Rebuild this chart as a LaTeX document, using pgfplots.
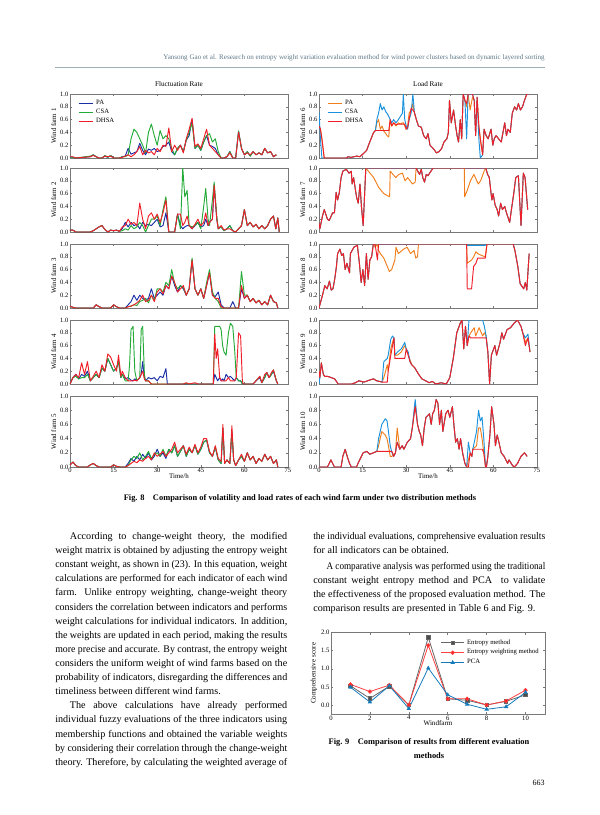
\documentclass[border=0pt]{standalone}
\usepackage{fontspec}
\setmainfont{Liberation Serif}
\usepackage{graphicx}
\usepackage{pgfplots}
\pgfplotsset{compat=1.18}
\usepackage{pgfplotstable}

\definecolor{paL}{RGB}{25,45,165}
\definecolor{csaL}{RGB}{35,170,55}
\definecolor{dhsa}{RGB}{240,30,40}
\definecolor{paR}{RGB}{240,125,25}
\definecolor{csaR}{RGB}{25,145,220}
\definecolor{hdr}{RGB}{95,120,135}
\definecolor{frame}{RGB}{120,120,120}

\pgfplotstableread{
t pa csa dhsa
0 .02 .02 .02
1 .01 .01 .02
2 0 0 0
7 .02 .03 .02
8 .05 .05 .04
9 .02 .02 .02
10 0 0 0
11 0 0 0
12 .03 .04 .03
13 .01 .01 .02
14 .04 .04 .03
15 0 0 0
17 0 0 0
18 .02 .02 .01
19 .03 .02 .03
20 .15 .05 .05
21 .06 .3 .02
22 .08 .45 .05
23 .1 .4 .1
24 .23 .3 .18
25 .12 .2 .05
26 .05 .08 .12
27 .14 .4 .08
28 .12 .53 .1
29 .15 .35 .05
30 .1 .2 .15
31 .12 .43 .1
32 .18 .3 .2
33 .2 .35 .18
34 .25 .3 .47
35 .1 .15 .1
36 .05 .05 .2
37 .15 .15 .12
38 .2 .2 .2
39 .1 .1 .08
40 .28 .28 .3
41 .35 .4 .45
42 .6 .55 .62
43 .15 .15 .18
44 .2 .2 .22
45 .12 .12 .15
46 .25 .25 .3
47 .35 .35 .45
48 .2 .38 .2
49 .18 .25 .15
50 .15 .3 .1
51 .05 .1 .05
52 0 0 0
53 0 0 0
54 .02 .02 .02
55 .1 .1 .08
56 0 0 0
57 0 0 0
58 .42 .42 .4
59 .15 .15 .15
60 .05 .05 .05
61 .1 .1 .08
62 .03 .03 .05
63 .1 .1 .1
64 .05 .05 .05
65 .08 .08 .08
66 .05 .05 .05
67 .15 .15 .15
68 .08 .08 .08
69 .1 .1 .1
70 .02 .02 .02
71 .05 .05 .05
}\tabA

\pgfplotstableread{
t pa csa dhsa
0 .03 .03 .03
1 .03 .03 .03
2 0 0 0
7 0 0 0
8 .02 .02 .02
10 .08 .08 .08
11 .1 .1 .1
12 .04 .04 .04
13 0 0 0
14 .03 .03 .03
15 .02 .02 .02
16 .03 .03 .03
17 .01 .01 .01
18 .05 .02 .08
19 .15 .05 .1
20 .08 .03 .2
21 .15 .1 .12
22 .1 .05 .15
23 .12 .08 .1
24 .05 .15 .45
25 .15 .1 .2
26 .1 0 .05
27 .12 .1 .25
28 .1 .2 .3
29 .15 .2 .2
30 .2 .25 .28
31 .08 .1 .15
32 .1 .35 .3
33 .3 .55 .5
34 0 0 0
36 0 0 0
37 .28 .28 .28
38 .1 .05 .28
38.8 .05 1.0 .1
39.5 .08 .55 .15
40.3 .1 .65 .25
41 .1 .1 .1
42 .05 .08 .05
43 .1 .1 .12
44 .15 .15 .2
45 .08 .05 .1
46 .1 .4 .15
46.7 .2 .68 .3
47.5 .1 .2 .1
48 .15 .1 .15
49 .2 .5 .2
49.6 .72 .78 .73
50.5 .2 .25 .2
51 .05 .05 .05
52 .08 .08 .1
53 .02 .02 .03
54 .05 .05 .05
55 .1 .1 .05
56 .02 .02 .02
57 0 0 0
58 .05 .05 .05
59 .1 .1 .1
60 .35 .35 .35
61 .1 .1 .1
62 .15 .15 .15
63 .08 .08 .08
64 .12 .12 .12
65 .05 .05 .05
66 .1 .1 .1
67 .05 .05 .05
68 .1 .1 .1
69 .2 .2 .2
70 .25 .25 .25
70.8 .05 .05 .05
71.5 .22 .22 .22
72 0 0 0
}\tabB

\pgfplotstableread{
t pa csa dhsa
0 .03 .03 .03
1 .01 .01 .01
2 0 0 0
8 0 0 0
9 .05 .05 .05
10 .02 .02 .02
11 0 0 0
14 0 0 0
15 .05 .05 .05
16 .02 .02 .02
17 0 0 0
19 0 0 0
20 .05 .02 .02
21 .1 .03 .03
22 .2 .05 .05
23 .12 .04 .08
24 .2 .1 .12
25 .15 .12 .2
26 .12 .15 .1
27 .15 .08 .12
28 .3 .2 .2
29 .15 .12 .1
30 .2 .3 .25
31 .25 .3 .3
32 .2 .25 .22
33 .35 .4 .35
34 .3 .35 .3
35 .5 .6 .5
36 .35 .38 .4
37 .25 .3 .25
38 .35 .35 .3
39 .3 .32 .35
40 .2 .2 .2
41 .3 .3 .3
42 .75 .78 .75
43 .3 .3 .3
44 .2 .2 .2
45 .3 .3 .3
46 .15 .15 .15
47 .35 .4 .35
48 .55 .6 .55
49 .2 .25 .2
50 .18 .15 .15
51 .25 .1 .15
52 .05 0 .02
53 0 0 0
55 0 0 0
56 .1 0 0
57 0 0 0
58 0 0 0
59 .3 .57 .35
60 .15 .2 .15
61 .2 .2 .2
62 .1 .1 .1
63 .15 .15 .15
64 .08 .08 .08
65 .12 .12 .12
66 .05 .05 .05
67 .1 .1 .1
68 .05 .05 .05
69 .2 .2 .2
70 .1 .1 .1
71 .08 .08 .08
71.5 0 0 0
}\tabC

\pgfplotstableread{
t pa csa dhsa
0 0 0 0
1 .1 .1 .1
2 .15 .12 .15
3 .08 .08 .1
4 .15 .1 .33
5 .12 .1 .15
6 .2 .15 .35
7 .05 .05 .05
8 .1 .1 .12
9 .15 .15 .2
10 .1 .1 .1
11 .25 .25 .3
12 .2 .2 .2
13 .4 .4 .47
14 .3 .3 .42
15 .2 .2 .3
16 .25 .25 .2
16.7 .35 .35 .45
17.5 .1 .1 .12
18 .15 .15 .2
19 .08 .05 .1
20 .1 .05 .05
20.5 .08 .3 .05
21 .06 .85 .05
21.7 .05 .9 .05
22.3 .08 .2 .06
23 .05 .05 .05
24 .1 .1 .1
24.5 .15 .85 .15
25 .35 .9 .2
25.6 .1 .15 .08
26 .05 .05 .05
27 .1 .05 .05
28 .08 0 0
29 .1 0 0
30 .05 0 0
31 .12 0 0
32 .1 0 0
33 .24 0 0
33.5 0 0 0
39 0 0 0
40 0 .01 .02
41 0 0 0
43 0 0 .02
44 0 0 0
49.3 0 0 0
49.8 .15 .9 .78
50.3 .1 .9 .4
50.8 .05 .9 .55
51.5 .1 .9 .1
52 .05 .85 .05
52.5 .08 .6 .05
53 .05 .5 .05
53.7 .15 .45 .05
54.5 .1 .8 .1
55.2 .12 .95 .05
56 .08 .9 .05
56.7 .05 .5 .05
57.2 .1 .1 .1
58 .05 .05 .8
58.7 .05 .05 .75
59.3 0 0 .05
59.6 0 0 0
63 0 0 0
64 .05 .05 .05
65.3 .1 .12 .12
66 .02 .02 .02
67 .1 .1 .15
67.7 .18 .18 .18
68.5 .1 .1 .1
69.3 .15 .15 .18
70 .2 .22 .22
71 .05 .05 .05
71.5 0 0 0
}\tabD

\pgfplotstableread{
t pa csa dhsa
0 .03 .03 .03
1 .07 .07 .07
2 .02 .02 .02
3 0 0 0
6 0 0 0
7 .03 .03 .03
8 .05 .05 .05
9 .02 .02 .02
10 0 0 0
14 0 0 0
15 .03 .03 .03
16 .01 .01 .01
17 0 0 0
19 0 0 0
20 .05 .02 .02
21 .12 .1 .05
22 .08 .15 .08
23 .15 .12 .06
24 .1 .2 .1
25 .18 .1 .08
26 .12 .15 .12
27 .2 .22 .15
28 .1 .12 .1
29 .15 .18 .2
30 .25 .2 .15
31 .15 .15 .18
32 .2 .25 .22
33 .12 .15 .15
34 .25 .25 .2
35 .2 .2 .25
36 .3 .3 .35
37 .15 .15 .2
38 .22 .22 .25
39 .3 .3 .3
40 .15 .15 .18
41 .25 .25 .28
42 .2 .2 .2
43 .3 .3 .32
44 .18 .18 .2
45 .25 .25 .28
46 .35 .35 .4
47 .38 .38 .4
48 .2 .2 .22
49 .15 .15 .15
50 .28 .28 .3
51 .1 .1 .12
52 .05 .05 .08
52.6 .55 .55 .6
53.2 .05 .05 .05
54 .1 .1 .1
55 .05 .05 .05
55.7 .5 .5 .58
56.3 .1 .1 .1
57 .02 .02 .02
58 .1 .1 .1
59 .15 .15 .18
60 .08 .08 .08
61 .2 .2 .2
62 .1 .1 .1
63 .15 .15 .15
64 .05 .05 .05
65 .12 .12 .12
66 .08 .08 .08
67 .18 .18 .18
68 .1 .1 .1
69 .15 .15 .15
70 .05 .05 .05
71 .1 .1 .1
71.5 0 0 0
}\tabE

\pgfplotstableread{
t pa csa dhsa
0 .5 .72 .5
0.5 .45 .3 .45
1 .3 0 .3
1.8 0 0 0
9.4 0 0 0
10 .02 .02 .02
11 .01 .01 .01
12 .02 .02 .02
13 .03 .03 .03
14 .02 .02 .02
14.6 .04 .04 .04
15.5 .08 .08 .08
16.4 .12 .12 .12
17.2 .22 .22 .22
17.9 .3 .3 .3
18.8 .4 .4 .4
19.4 .43 .43 .43
19.9 .55 .6 .43
20.5 .6 .7 .43
21.1 .45 .85 .43
21.7 .5 .75 .43
22.3 .42 .8 .43
23 .38 .72 .43
23.4 .35 .7 .43
24 .33 .65 .43
24.5 .6 .6 .6
25 .5 .55 .5
25.7 .55 .6 .55
26.5 .5 .55 .52
27.3 .55 .6 .53
28 .53 .65 .53
28.7 .55 .7 .53
29 .55 1.0 .53
29.5 .5 .6 .53
30 .45 .5 .45
30.5 .5 .45 .48
31 .7 .6 .6
31.7 .75 .7 .78
32.3 .85 1.0 .75
32.8 .7 .72 .72
33.5 .6 .6 .6
34.2 .5 .5 .5
35.2 .48 .48 .48
36 .35 .35 .35
36.9 .3 .3 .3
37.5 .38 .38 .38
38.2 .2 .2 .2
39.3 .15 .15 .15
40.4 .08 .08 .08
41.3 .1 .1 .1
42.2 .15 .15 .15
43 .25 .25 .25
44 .3 .3 .3
44.5 .4 .4 .4
44.9 .9 .9 .9
45.5 .55 .55 .55
46.3 .75 .75 .75
47 .5 .5 .5
47.5 .35 .35 .35
48 .25 .25 .25
48.6 .6 .6 .6
49.1 .3 .3 .3
49.6 1.0 1.0 1.0
50.2 .9 .9 .9
50.8 .8 .3 .85
51.3 1.0 1.0 1.0
52 .75 1.0 1.0
52.8 .95 1.0 1.0
53.4 .9 .9 .9
53.9 .35 .35 .35
54.4 .95 .95 .95
55 .5 .3 .5
55.5 .3 0 .3
56.3 .05 .05 .05
56.8 .45 .45 .45
57.5 .35 .35 .35
58.2 .3 .3 .3
59.2 .45 .45 .45
59.8 .2 .2 .2
60.3 .3 .3 .3
60.9 .35 .35 .35
61.8 .3 .3 .3
62.7 .25 .25 .25
63.3 .4 .4 .4
63.9 .55 .55 .55
64.5 .35 .35 .35
65 .45 .45 .45
65.8 .4 .4 .4
66.5 .7 .7 .7
67.3 .8 .8 .8
68 .75 .75 .75
68.6 .85 .85 .85
69.3 .75 .75 .75
70 .8 .8 .8
70.7 .9 .9 .9
71.5 1.0 1.0 1.0
72.5 1.0 1.0 1.0
}\tabF

\pgfplotstableread{
t pa csa dhsa
0 .15 .15 .15
0.3 .05 .05 .05
1.2 .25 .25 .25
1.8 .35 .35 .35
2.9 .2 .2 .2
3.5 .18 .18 .18
4.7 .3 .3 .3
5.3 .3 .3 .3
5.6 .45 .45 .45
5.9 .62 .62 .62
6.4 .5 .5 .5
7 .62 .62 .62
7.6 .85 .85 .85
8.2 .95 .95 .95
9.4 .98 .98 .98
10.3 .92 .92 .92
11.1 .95 .95 .95
11.4 .75 .75 .75
11.9 .85 .85 .85
12.9 .55 .55 .55
13.5 .45 .45 .45
14.1 .75 .75 .75
14.6 .4 .4 .4
15.2 .1 .1 .1
16.1 1.0 1.0 1.0
17 .95 1.0 1.0
18.8 .85 1.0 1.0
20.5 .7 1.0 1.0
22.3 .6 1.0 1.0
24.3 .55 1.0 1.0
24.5 .95 1.0 1.0
26.4 .85 1.0 1.0
27.5 .9 1.0 1.0
28.7 .92 1.0 1.0
29.6 .8 1.0 1.0
30.5 .85 1.0 1.0
32.2 .75 1.0 1.0
33.1 .78 1.0 1.0
33.4 1.0 1.0 1.0
34.6 .9 .9 .9
35.2 .98 .98 .98
35.7 .85 .85 .85
36.3 .78 .78 .78
36.9 .9 .9 .9
37.5 .88 .88 .88
38.5 .95 .95 .95
39.3 1.0 1.0 1.0
50 1.0 1.0 1.0
50.1 .55 1.0 1.0
51 .65 1.0 1.0
52.1 .8 1.0 1.0
53.3 .9 1.0 1.0
54.8 .75 1.0 1.0
55.6 .8 1.0 1.0
56.8 .95 1.0 1.0
57.4 1.0 1.0 1.0
58 .9 .9 .9
58.6 .85 .85 .85
59.2 .6 .6 .6
59.5 .5 .5 .5
59.9 .6 .6 .6
60.6 .42 .42 .42
61.3 .35 .35 .35
61.8 .25 .25 .25
62.5 .45 .45 .45
63.1 .35 .35 .35
63.9 .4 .4 .4
64.5 .3 .3 .3
65.6 .15 .15 .15
66.2 .35 .35 .35
67 .6 .6 .6
67.7 .85 .85 .85
68.6 .88 .88 .88
69.5 .1 .1 .1
70.3 .92 .92 .92
70.9 .85 .85 .85
71.8 .35 .35 .35
}\tabG

\pgfplotstableread{
t pa csa dhsa
0 0 0 0
1.2 .2 .2 .2
2 .35 .35 .35
2.8 .3 .3 .3
3.6 .42 .42 .42
4.2 .28 .28 .28
4.8 .3 .3 .3
5.4 .45 .45 .45
6 .65 .65 .65
6.4 .85 .85 .85
7.2 .92 .92 .92
7.8 .82 .82 .82
8.4 .85 .85 .85
9 .6 .6 .6
9.6 .7 .7 .7
10.5 .55 .55 .55
10.8 .85 .85 .85
12 .95 .95 .95
13.2 .98 .98 .98
13.9 .7 .7 .7
14.5 .4 .4 .4
15.1 .6 .6 .6
15.7 .35 .35 .35
16.3 .85 .85 .85
16.9 .45 .45 .45
17.5 .75 .75 .75
18.1 .8 .8 .8
18.7 1.0 1.0 1.0
19.3 .95 1.0 1.0
20.1 1.0 1.0 .75
20.5 .9 1.0 1.0
21.1 .85 1.0 1.0
22.3 .78 1.0 1.0
23.5 .65 1.0 1.0
24.2 .57 1.0 1.0
25 .6 1.0 1.0
26.1 .75 1.0 1.0
26.5 .95 1.0 1.0
27.3 .85 1.0 1.0
29.1 .92 1.0 1.0
30.3 .95 1.0 1.0
31.5 .85 1.0 1.0
32.7 .9 1.0 1.0
33.3 .78 1.0 1.0
33.9 .8 1.0 1.0
34.2 1.0 1.0 1.0
50.8 1.0 1.0 1.0
51 .7 .98 .3
52.5 .75 .98 .3
53.2 .8 .98 .65
54 .88 .98 .7
54.6 .85 .98 .78
56 .82 .98 .78
57.2 .8 .98 .78
57.8 1.0 1.0 1.0
66.8 1.0 1.0 1.0
67.4 .9 .9 .9
68.4 .65 .65 .65
69.2 .38 .38 .38
70.4 .3 .3 .3
71 .4 .4 .4
71.5 .28 .28 .28
72.3 .85 .85 .85
}\tabH

\pgfplotstableread{
t pa csa dhsa
0 .2 0 .2
0.3 .1 .1 .1
0.8 .33 .33 .33
1.5 .15 .15 .15
2 .12 .12 .12
3 .12 .12 .12
4.2 .1 .1 .1
5.4 .08 .08 .08
6.6 0 0 0
11.3 0 0 0
12.5 .02 .02 .02
13.7 .05 .05 .05
15.5 .03 .03 .03
17.3 .06 .06 .06
18.7 .08 .08 .08
19.9 .05 .05 .05
21.7 .03 .03 .03
22.3 .1 .35 .03
23.5 .3 .4 .03
23.8 .2 .45 .2
24.7 .55 .7 .45
25.3 .65 .75 .6
25.8 .72 .72 .72
26.1 .45 .45 .4
27 .45 .5 .4
28.3 .5 .55 .4
28.9 .55 .6 .4
29.5 .6 .65 .4
30 .55 .55 .55
30.7 .45 .5 .45
31.3 .38 .35 .35
31.9 .3 .3 .3
33 .25 .25 .25
34.3 .15 .15 .15
35.4 .08 .08 .08
36.7 .05 .05 .05
37.9 .02 .02 .02
39 .04 .04 .04
40.2 0 0 0
42 .02 .02 .02
43.8 0 0 0
45 .1 .1 .1
46.2 .4 .4 .4
47.4 .8 .8 .8
48.6 .95 .95 .95
49.2 1.0 1.0 1.0
49.8 .55 .55 .55
50.4 .9 .9 .9
51 .6 .6 .6
51.6 .75 1.0 .75
52.2 .8 1.0 .72
53.4 .88 1.0 .72
53.9 .75 1.0 .72
55.1 .88 1.0 .72
56.3 .75 1.0 .72
56.9 .8 .9 .72
57.5 .75 .75 .72
58.1 .5 .5 .5
58.7 0 0 0
59.3 .45 .45 .45
60.5 .6 .6 .6
61.1 .45 .45 .45
62.3 .65 .65 .65
62.9 .8 .8 .8
63.5 .7 .7 .7
64.7 .85 .85 .85
65.9 .88 .88 .88
67.1 .95 .95 .95
68.3 1.0 1.0 1.0
69.5 .9 .9 .9
70.1 .8 .8 .8
71 .65 .72 .6
71.9 .72 .78 .72
72.6 .5 .5 .5
}\tabI

\pgfplotstableread{
t pa csa dhsa
0 0 0 0
2.9 0 0 0
4.1 .1 .1 .1
5.3 0 0 0
7.6 0 0 0
8.2 .15 .15 .15
9 .25 .25 .25
9.7 .15 .15 .15
10.5 .05 .05 .05
11.1 0 0 0
12.9 0 0 0
13.4 .05 .05 .05
15.2 .2 .2 .2
16.4 .22 .22 .22
17.5 .18 .18 .18
18.7 .2 .2 .2
19.9 .22 .22 .22
20.5 .3 .4 .22
21.6 .5 .6 .22
22.8 .45 .68 .22
23.4 .4 .65 .22
23.9 .3 .5 .22
24.5 .15 .3 .22
25.1 .15 .2 .22
25.7 .18 .15 .15
26.3 .2 .2 .2
26.9 .55 .35 .35
27.8 .25 .25 .25
28.6 .3 .3 .3
29.2 .25 .25 .25
30.4 .35 .35 .35
31.5 .4 .4 .4
32.1 .55 .55 .55
33.1 .9 .95 .85
33.9 .6 .6 .6
34.5 .5 .5 .5
35 .45 .45 .45
35.6 .3 .3 .3
36.2 .55 .55 .55
36.8 .7 .7 .7
38 .75 .75 .75
38.6 .6 .6 .6
39.1 .75 .75 .75
39.7 .8 .8 .8
40.3 .95 .95 .95
40.9 .9 .9 .9
41.5 .6 .6 .6
42.1 .8 .8 .8
42.6 .5 .5 .5
43.6 .75 .75 .75
44.4 .8 .8 .8
45 .7 .7 .7
45.9 .85 .85 .85
46.4 .6 .6 .6
47 .35 .35 .35
47.6 .4 .4 .4
48.2 .25 .25 .25
48.7 .4 .4 .4
49.4 .2 .2 .2
50.2 .05 .05 .05
50.8 0 0 0
51.4 .1 .35 0
52 .2 .2 .2
52.6 .15 .15 .15
52.9 .25 .25 .25
54.2 .3 .5 .25
54.9 .55 .8 .25
55.5 .55 .65 .25
56.1 .4 .7 .25
56.7 .2 .4 .2
57.3 0 0 0
57.6 0 0 0
58.1 .15 .15 .15
58.8 .45 .45 .45
59.4 .85 .85 .85
60.2 .6 .6 .6
60.7 .3 .3 .3
61.3 .45 .45 .45
61.9 .35 .35 .35
62.7 .2 .2 .2
63.7 .15 .15 .15
64.9 .05 .05 .05
65.4 .1 .1 .1
66.6 .02 .02 .02
67.2 0 0 0
68.3 .05 .05 .05
69.5 .15 .15 .15
70.7 .2 .2 .2
71.6 .15 .15 .15
}\tabJ

\pgfplotsset{
  panel/.style={
    scale only axis, width=163.5pt, height=48pt, anchor=north west,
    xmin=0, xmax=75, ymin=0, ymax=1,
    xtick={0,15,30,45,60,75}, ytick={0,0.2,0.4,0.6,0.8,1},
    xticklabels={},
    tick align=inside, major tick length=1.8pt,
    axis line style={frame, line width=0.45pt},
    tick style={frame, line width=0.4pt},
    /pgf/number format/assume math mode=true,
    yticklabel style={/pgf/number format/.cd, fixed, fixed zerofill, precision=1},
    tick label style={font=\fontsize{4.9}{5}\selectfont, inner sep=1pt},
    label style={font=\fontsize{5.2}{6}\selectfont},
    ylabel style={yshift=-1.5pt},
    title style={font=\fontsize{5.4}{6}\selectfont, yshift=-4pt},
    every axis plot/.append style={line width=0.7pt, no markers, line join=round},
    legend style={at={(0.03,0.97)}, anchor=north west, draw=none, fill=none,
      font=\fontsize{5}{5.5}\selectfont, row sep=-2.2pt, inner sep=1pt},
    legend cell align=left,
    legend image code/.code={\draw[mark repeat=2,mark phase=2,#1] plot coordinates {(0cm,0cm) (0.19cm,0cm) (0.38cm,0cm)};},
  },
  bottom/.style={height=53.25pt, xticklabels={0,15,30,45,60,75}, xlabel={Time/h}, xlabel style={yshift=4pt}},
}

\newcommand\jl[1]{\noindent\setbox0=\hbox{#1}\ifdim\wd0>\linewidth\resizebox{\linewidth}{\height}{#1}\else\makebox[\linewidth][s]{#1}\fi\par}
\newcommand\el[1]{\noindent #1\par}
\newcommand\ind{\hspace*{11pt}}

\begin{document}
\begin{tikzpicture}
\path[use as bounding box] (0,0) rectangle (450pt,-611.25pt);

% header
\node[anchor=base east, inner sep=0pt, font=\fontsize{5.3}{6}\selectfont, text=hdr] at (408.75pt,-44.8pt)
  {Yansong Gao et al. Research on entropy weight variation evaluation method for wind power clusters based on dynamic layered sorting};
\draw[hdr!60, line width=0.35pt] (41.25pt,-50.5pt) -- (408.75pt,-50.5pt);

% ---------------- left column: Fluctuation rate
\begin{axis}[panel, at={(52.5pt,-70.5pt)}, ylabel={Wind farm 1}, title={Fluctuation Rate}]
\addplot[color=paL] table[x=t,y=pa]{\tabA};
\addplot[color=csaL] table[x=t,y=csa]{\tabA};
\addplot[color=dhsa] table[x=t,y=dhsa]{\tabA};
\legend{PA,CSA,DHSA}
\end{axis}
\begin{axis}[panel, at={(52.5pt,-126pt)}, ylabel={Wind farm 2}]
\addplot[color=paL] table[x=t,y=pa]{\tabB};
\addplot[color=csaL] table[x=t,y=csa]{\tabB};
\addplot[color=dhsa] table[x=t,y=dhsa]{\tabB};
\end{axis}
\begin{axis}[panel, at={(52.5pt,-183pt)}, ylabel={Wind farm 3}]
\addplot[color=paL] table[x=t,y=pa]{\tabC};
\addplot[color=csaL] table[x=t,y=csa]{\tabC};
\addplot[color=dhsa] table[x=t,y=dhsa]{\tabC};
\end{axis}
\begin{axis}[panel, at={(52.5pt,-240pt)}, ylabel={Wind farm 4}]
\addplot[color=paL] table[x=t,y=pa]{\tabD};
\addplot[color=csaL] table[x=t,y=csa]{\tabD};
\addplot[color=dhsa] table[x=t,y=dhsa]{\tabD};
\end{axis}
\begin{axis}[panel, bottom, at={(52.5pt,-297pt)}, ylabel={Wind farm 5}]
\addplot[color=paL] table[x=t,y=pa]{\tabE};
\addplot[color=csaL] table[x=t,y=csa]{\tabE};
\addplot[color=dhsa] table[x=t,y=dhsa]{\tabE};
\end{axis}

% ---------------- right column: Load rate
\begin{axis}[panel, at={(239.25pt,-70.5pt)}, ylabel={Wind farm 6}, title={Load Rate}]
\addplot[color=paR] table[x=t,y=pa]{\tabF};
\addplot[color=csaR] table[x=t,y=csa]{\tabF};
\addplot[color=dhsa] table[x=t,y=dhsa]{\tabF};
\legend{PA,CSA,DHSA}
\end{axis}
\begin{axis}[panel, at={(239.25pt,-126pt)}, ylabel={Wind farm 7}]
\addplot[color=paR] table[x=t,y=pa]{\tabG};
\addplot[color=csaR] table[x=t,y=csa]{\tabG};
\addplot[color=dhsa] table[x=t,y=dhsa]{\tabG};
\end{axis}
\begin{axis}[panel, at={(239.25pt,-183pt)}, ylabel={Wind farm 8}]
\addplot[color=paR] table[x=t,y=pa]{\tabH};
\addplot[color=csaR] table[x=t,y=csa]{\tabH};
\addplot[color=dhsa] table[x=t,y=dhsa]{\tabH};
\end{axis}
\begin{axis}[panel, at={(239.25pt,-240pt)}, ylabel={Wind farm 9}]
\addplot[color=paR] table[x=t,y=pa]{\tabI};
\addplot[color=csaR] table[x=t,y=csa]{\tabI};
\addplot[color=dhsa] table[x=t,y=dhsa]{\tabI};
\end{axis}
\begin{axis}[panel, bottom, at={(239.25pt,-297pt)}, ylabel={Wind farm 10}]
\addplot[color=paR] table[x=t,y=pa]{\tabJ};
\addplot[color=csaR] table[x=t,y=csa]{\tabJ};
\addplot[color=dhsa] table[x=t,y=dhsa]{\tabJ};
\end{axis}

% caption fig 8
\node[font=\bfseries\fontsize{6.3}{7}\selectfont] at (225pt,-373.5pt)
  {Fig. 8\quad Comparison of volatility and load rates of each wind farm under two distribution methods};

% body text left
\node[anchor=north west, inner sep=0pt] at (41.25pt,-399pt) {%
\begin{minipage}[t]{174pt}\fontsize{7.6}{10.59}\selectfont
\jl{\ind According to change-weight theory, the modified}
\jl{weight matrix is obtained by adjusting the entropy weight}
\jl{constant weight, as shown in (23). In this equation, weight}
\jl{calculations are performed for each indicator of each wind}
\jl{farm. Unlike entropy weighting, change-weight theory}
\jl{considers the correlation between indicators and performs}
\jl{weight calculations for individual indicators. In addition,}
\jl{the weights are updated in each period, making the results}
\jl{more precise and accurate. By contrast, the entropy weight}
\jl{considers the uniform weight of wind farms based on the}
\jl{probability of indicators, disregarding the differences and}
\el{timeliness between different wind farms.}
\jl{\ind The above calculations have already performed}
\jl{individual fuzzy evaluations of the three indicators using}
\jl{membership functions and obtained the variable weights}
\jl{by considering their correlation through the change-weight}
\jl{theory. Therefore, by calculating the weighted average of}
\end{minipage}};

% body text right
\node[anchor=north west, inner sep=0pt] at (234.75pt,-399pt) {%
\begin{minipage}[t]{174pt}\fontsize{7.6}{10.59}\selectfont
\jl{the individual evaluations, comprehensive evaluation results}
\el{for all indicators can be obtained.}
\vspace{1.5pt}
\jl{\ind A comparative analysis was performed using the traditional}
\jl{constant weight entropy method and PCA\ \ to validate}
\jl{the effectiveness of the proposed evaluation method. The}
\el{comparison results are presented in Table 6 and Fig. 9.}
\end{minipage}};

% Fig 9
\begin{axis}[scale only axis, width=160.5pt, height=61pt, anchor=north west, at={(248.25pt,-474.5pt)},
  xmin=0, xmax=11, ymin=-0.25, ymax=2,
  xtick={0,2,4,6,8,10}, ytick={0,0.5,1,1.5,2},
  tick align=inside, major tick length=1.8pt,
  axis line style={frame, line width=0.45pt},
  tick style={frame, line width=0.4pt},
  /pgf/number format/assume math mode=true,
  yticklabel style={/pgf/number format/.cd, fixed, fixed zerofill, precision=1},
  tick label style={font=\fontsize{5}{5.5}\selectfont, inner sep=1pt},
  label style={font=\fontsize{5.3}{6}\selectfont},
  xlabel={Windfarm}, ylabel={Comprehensive score},
  xlabel style={yshift=4pt}, ylabel style={yshift=-1.5pt},
  legend style={at={(0.99,0.97)}, anchor=north east, draw=none, fill=none,
    font=\fontsize{5}{5.5}\selectfont, row sep=-1.5pt, inner sep=1pt},
  legend cell align=left,
  every axis plot/.append style={line width=0.6pt, mark size=1.3pt},
]
\addplot[gray!80!black, mark=square*, mark options={fill=gray!60!black}] coordinates {
(1,0.53) (2,0.18) (3,0.52) (4,0.0) (5,1.87) (6,0.17) (7,0.13) (8,0.0) (9,0.10) (10,0.28)};
\addplot[red!75, mark=*, mark options={fill=red!90}] coordinates {
(1,0.57) (2,0.37) (3,0.55) (4,0.0) (5,1.65) (6,0.17) (7,0.17) (8,0.0) (9,0.11) (10,0.41)};
\addplot[csaR!85!black, mark=triangle*, mark options={fill=csaR!80!black}] coordinates {
(1,0.49) (2,0.08) (3,0.53) (4,-0.10) (5,1.02) (6,0.28) (7,0.02) (8,-0.12) (9,-0.05) (10,0.35)};
\legend{Entropy method, Entropy weighting method, PCA}
\end{axis}

% caption fig 9
\node[font=\bfseries\fontsize{6.3}{10.5}\selectfont, align=center] at (321.75pt,-561.5pt)
  {Fig. 9\quad Comparison of results from different evaluation\\methods};

% page number
\node[anchor=base east, inner sep=0pt, font=\fontsize{6}{7}\selectfont] at (408.75pt,-589pt) {663};
\end{tikzpicture}
\end{document}
